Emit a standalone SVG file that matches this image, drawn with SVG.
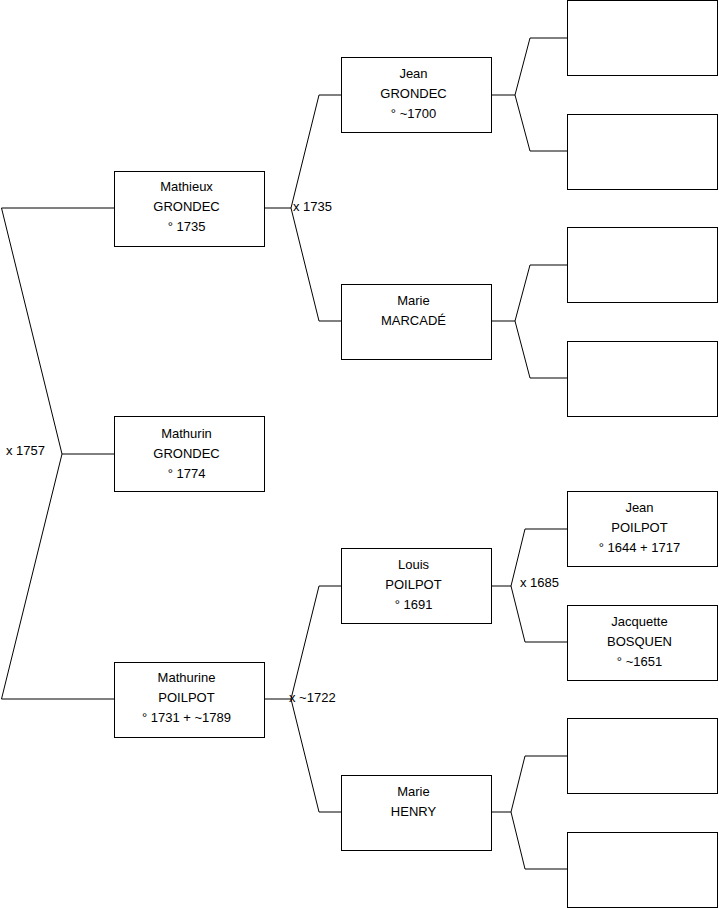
<svg xmlns="http://www.w3.org/2000/svg" width="719" height="908" viewBox="0 0 719 908">
<style>
.box{fill:#fff;stroke:#000;stroke-width:1}
.c{fill:none;stroke:#000;stroke-width:1}
text{font-family:"Liberation Sans",Arial,sans-serif;font-size:13px;fill:#000}
.m{text-anchor:middle}
</style>
<rect width="719" height="908" fill="#fff"/>
<g id="connectors">
<polyline class="c" points="114,454 62,454"/>
<polyline class="c" points="114,208 1.5,208 62,454 1.5,699 114,699"/>
<text x="6" y="455">x 1757</text>
<polyline class="c" points="265,208 291,208"/>
<polyline class="c" points="341,95 319,95 291,208 319,321 341,321"/>
<text x="293" y="211">x 1735</text>
<polyline class="c" points="265,699 291,699"/>
<polyline class="c" points="341,586 319,586 291,699 319,812 341,812"/>
<text x="289" y="702">x ~1722</text>
<polyline class="c" points="492,95 515,95"/>
<polyline class="c" points="567,38 530,38 515,95 530,151 567,151"/>
<polyline class="c" points="492,321 515,321"/>
<polyline class="c" points="567,265 530,265 515,321 530,378 567,378"/>
<polyline class="c" points="492,586 511,586"/>
<polyline class="c" points="567,529 525,529 511,586 525,642 567,642"/>
<text x="520" y="587">x 1685</text>
<polyline class="c" points="492,812 511,812"/>
<polyline class="c" points="567,756 525,756 511,812 525,869 567,869"/>
</g>
<g id="mathieux"><rect class="box" x="114.5" y="171.5" width="150" height="75"/>
<text class="m" x="186.5" y="191">Mathieux</text><text class="m" x="186.5" y="211">GRONDEC</text><text class="m" x="186.5" y="231">° 1735</text></g>
<g id="mathurin"><rect class="box" x="114.5" y="416.5" width="150" height="75"/>
<text class="m" x="186.5" y="438">Mathurin</text><text class="m" x="186.5" y="458">GRONDEC</text><text class="m" x="186.5" y="478">° 1774</text></g>
<g id="mathurine"><rect class="box" x="114.5" y="662.5" width="150" height="75"/>
<text class="m" x="186.5" y="682">Mathurine</text><text class="m" x="186.5" y="702">POILPOT</text><text class="m" x="186.5" y="722">° 1731 + ~1789</text></g>
<g id="jean-grondec"><rect class="box" x="341.5" y="57.5" width="150" height="75"/>
<text class="m" x="413.5" y="78">Jean</text><text class="m" x="413.5" y="98">GRONDEC</text><text class="m" x="413.5" y="118">° ~1700</text></g>
<g id="marie-marcade"><rect class="box" x="341.5" y="284.5" width="150" height="75"/>
<text class="m" x="413.5" y="305">Marie</text><text class="m" x="413.5" y="325">MARCADÉ</text></g>
<g id="louis"><rect class="box" x="341.5" y="548.5" width="150" height="75"/>
<text class="m" x="413.5" y="569">Louis</text><text class="m" x="413.5" y="589">POILPOT</text><text class="m" x="413.5" y="609">° 1691</text></g>
<g id="marie-henry"><rect class="box" x="341.5" y="775.5" width="150" height="75"/>
<text class="m" x="413.5" y="796">Marie</text><text class="m" x="413.5" y="816">HENRY</text></g>
<g id="g1"><rect class="box" x="567.5" y="0.5" width="150" height="75"/></g>
<g id="g2"><rect class="box" x="567.5" y="114.5" width="150" height="75"/></g>
<g id="g3"><rect class="box" x="567.5" y="227.5" width="150" height="75"/></g>
<g id="g4"><rect class="box" x="567.5" y="341.5" width="150" height="75"/></g>
<g id="jean-poilpot"><rect class="box" x="567.5" y="491.5" width="150" height="75"/>
<text class="m" x="639.5" y="512">Jean</text><text class="m" x="639.5" y="532">POILPOT</text><text class="m" x="639.5" y="552">° 1644 + 1717</text></g>
<g id="jacquette"><rect class="box" x="567.5" y="605.5" width="150" height="75"/>
<text class="m" x="639.5" y="626">Jacquette</text><text class="m" x="639.5" y="646">BOSQUEN</text><text class="m" x="639.5" y="666">° ~1651</text></g>
<g id="g7"><rect class="box" x="567.5" y="718.5" width="150" height="75"/></g>
<g id="g8"><rect class="box" x="567.5" y="832.5" width="150" height="75"/></g>
</svg>
